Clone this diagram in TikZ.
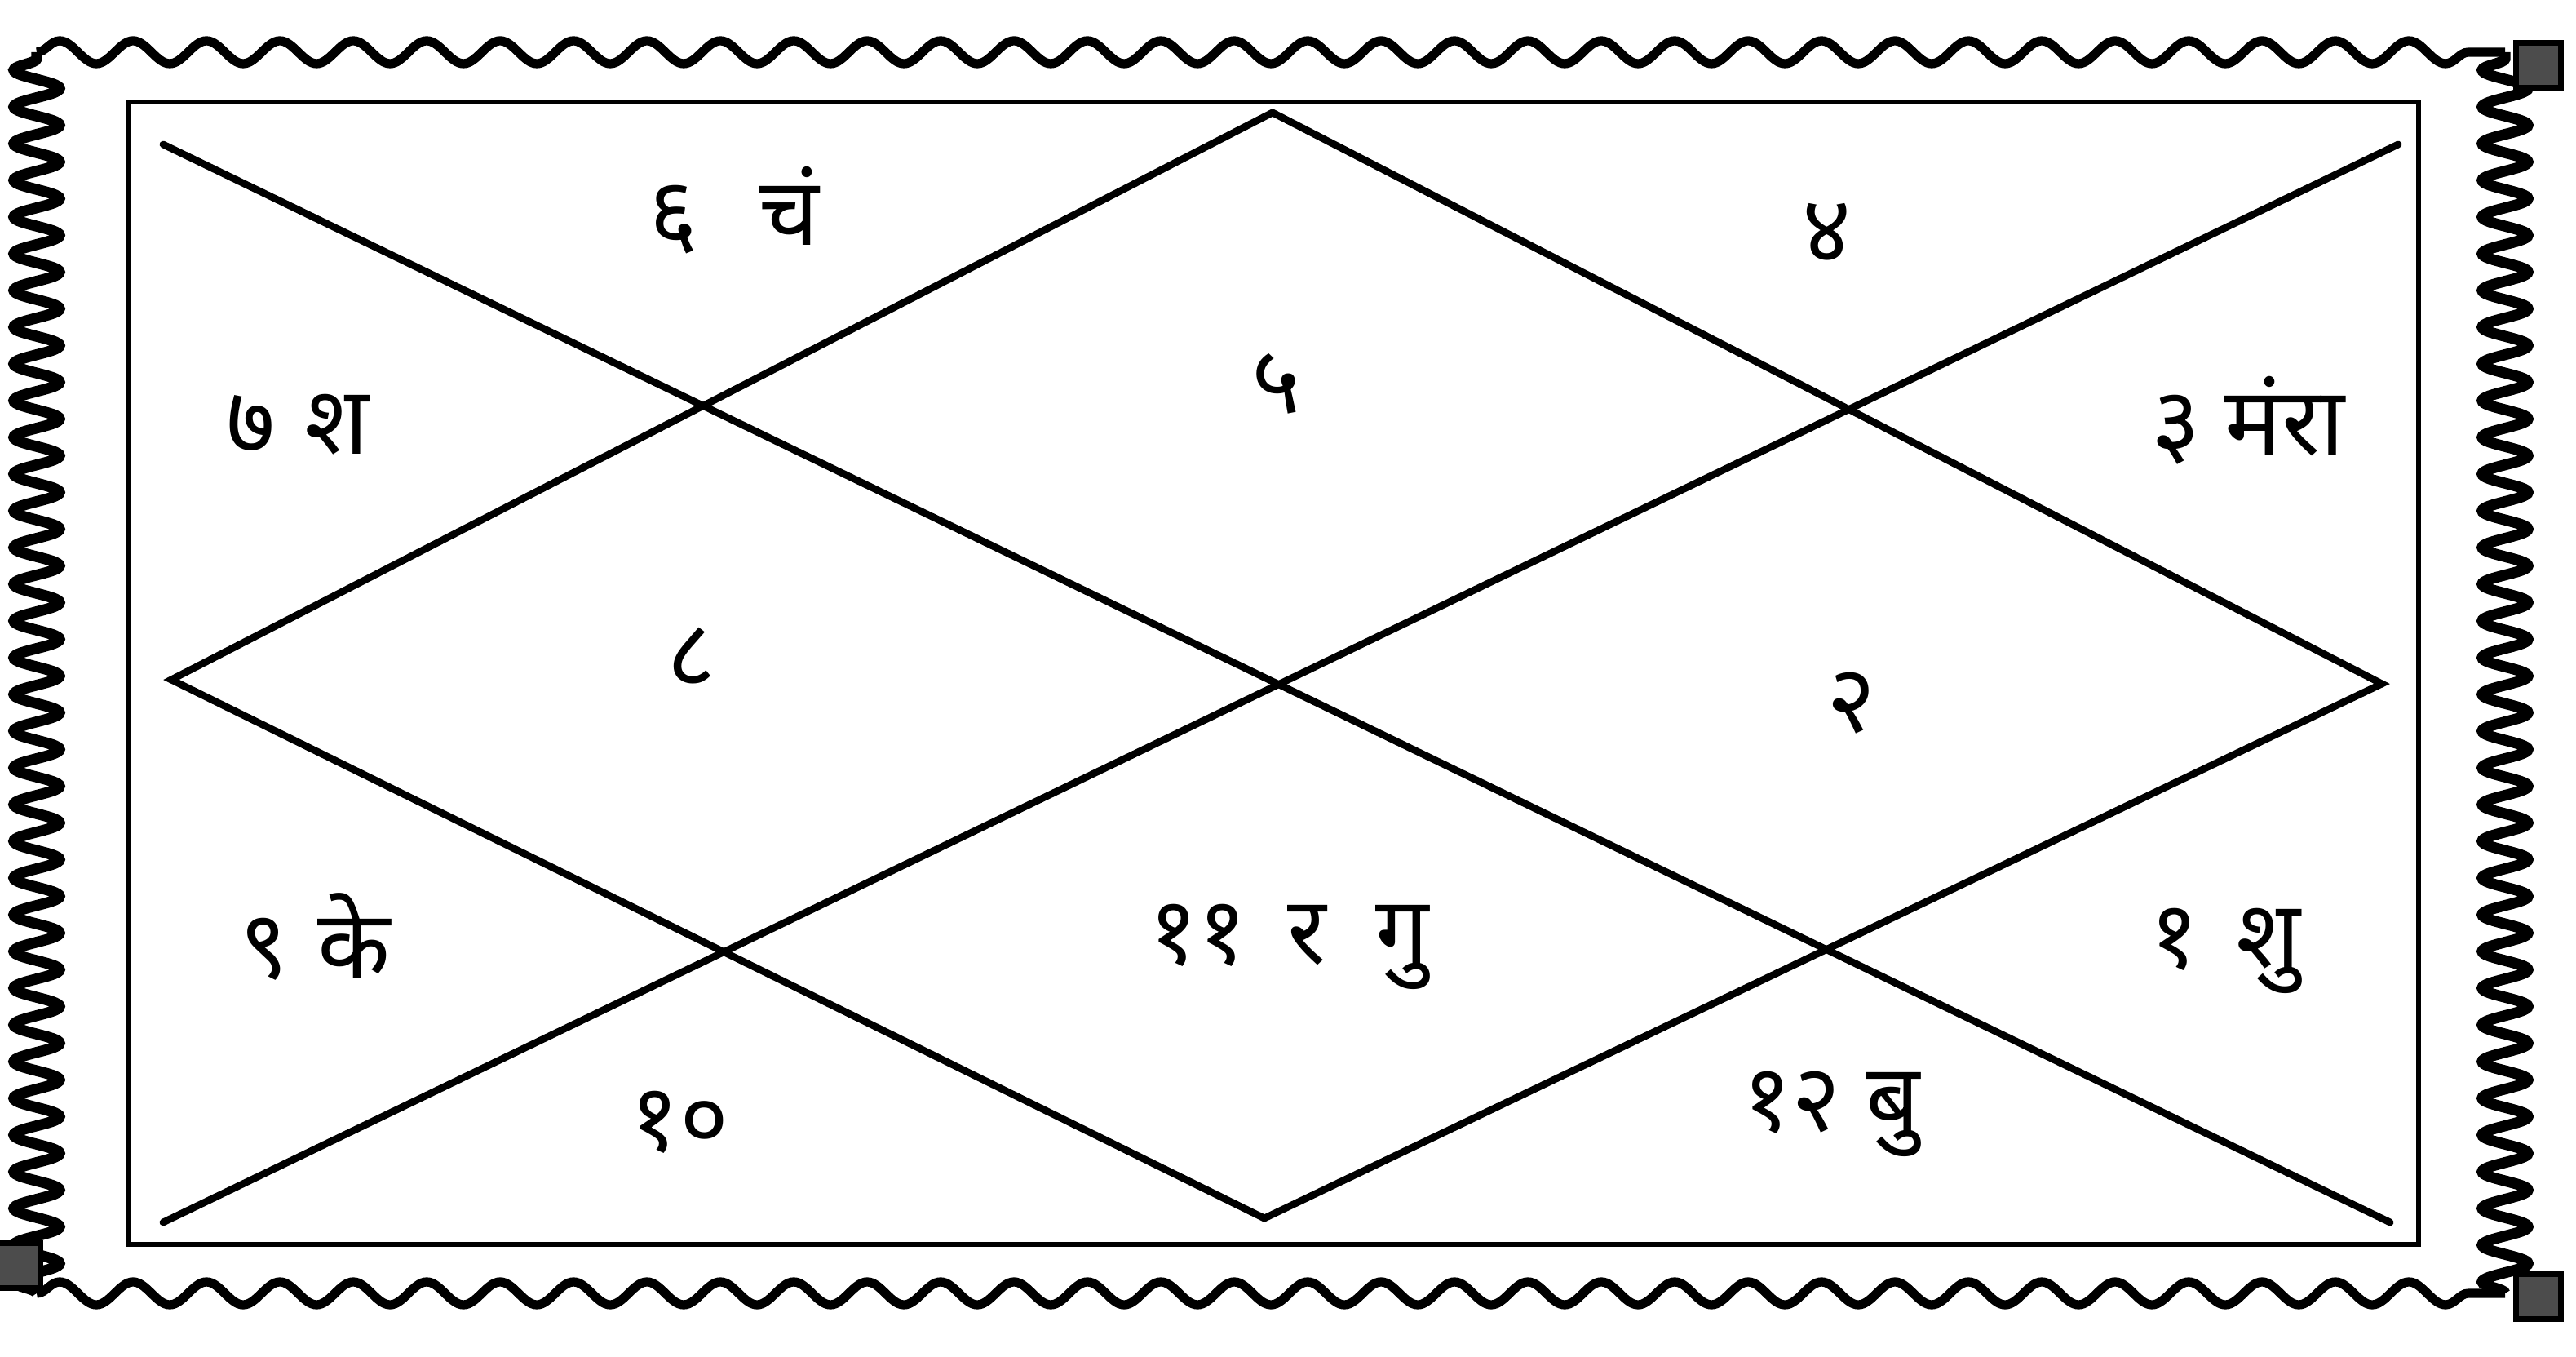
\documentclass[tikz,border=0pt]{standalone}
\usepackage{fontspec}
\newfontfamily\devfont[Script=Devanagari]{Noto Sans}
\usetikzlibrary{decorations.pathmorphing}

\begin{document}
\begin{tikzpicture}[
    house/.style={font=\devfont\fontsize{33}{40}\selectfont, inner sep=1pt},
    chartline/.style={line width=2.5pt, line cap=round},
    frameline/.style={line width=1.6pt},
    wavyh/.style={line width=3.2pt, decorate, decoration={snake, segment length=0.9cm, amplitude=0.14cm}},
    wavyv/.style={line width=3.8pt, decorate, decoration={snake, segment length=0.45cm, amplitude=0.28cm}},
    orn/.style={draw, fill=black!70, line width=2pt, minimum size=0.55cm, inner sep=0pt}
]
\useasboundingbox[fill=white] (0,0) rectangle (31.58,16.63);

% --- ornamental border ---
\coordinate (wtl) at (0.45,15.99);
\coordinate (wtr) at (30.71,15.99);
\coordinate (wbl) at (0.45,0.78);
\coordinate (wbr) at (30.71,0.78);
\draw[wavyh] (wtl) -- (wtr);
\draw[wavyh] (wbl) -- (wbr);
\draw[wavyv] (wbl) -- (wtl);
\draw[wavyv] (wbr) -- (wtr);
\node[orn] (otr) at (31.12,15.83) {};
\node[orn] (obl) at (0.22,1.12) {};
\node[orn] (obr) at (31.12,0.74) {};

% --- frame ---
\coordinate (ftl) at (1.57,15.38);
\coordinate (fbr) at (29.65,1.38);
\draw[frameline] (ftl) rectangle (fbr);

% --- chart corners and midpoints ---
\coordinate (tl) at (2.0,14.86);
\coordinate (tr) at (29.4,14.86);
\coordinate (bl) at (2.0,1.65);
\coordinate (br) at (29.3,1.65);
\coordinate (tm) at (15.6,15.25);
\coordinate (rm) at (29.2,8.25);
\coordinate (bm) at (15.5,1.70);
\coordinate (lm) at (2.1,8.30);

\draw[chartline] (tl) -- (br);
\draw[chartline] (tr) -- (bl);
\draw[chartline] (tm) -- (rm) -- (bm) -- (lm) -- cycle;

% --- houses ---
\node[house] (h6) at (9.00,14.05) {६\hspace{0.75cm}चं};
\node[house] (h4) at (22.40,13.78) {४};
\node[house] (h5) at (15.65,11.93) {५};
\node[house] (h7) at (3.65,11.43) {७\hspace{0.35cm}श};
\node[house] (h3) at (27.56,11.48) {३ मंरा};
\node[house] (h8) at (8.48,8.58) {८};
\node[house] (h2) at (22.70,8.01) {२};
\node[house] (h9) at (3.86,5.15) {९\hspace{0.35cm}के};
\node[house] (h11) at (15.80,5.03) {११\hspace{0.5cm}र\hspace{0.6cm}गु};
\node[house] (h1) at (27.28,4.98) {१\hspace{0.45cm}शु};
\node[house] (h10) at (8.33,2.88) {१०};
\node[house] (h12) at (22.45,2.98) {१२ बु};
\end{tikzpicture}
\end{document}
